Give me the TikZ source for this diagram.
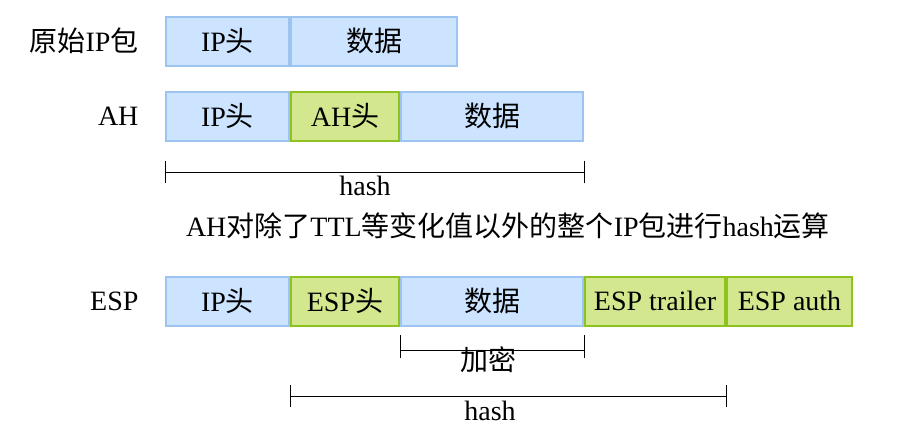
\documentclass[tikz,border=0pt]{standalone}
\usepackage{fontspec}
\setmainfont{Liberation Serif}
\newfontfamily\cjk{Noto Sans CJK SC}
\newcommand{\zh}[1]{{\cjk #1}}
\usepackage{tikz}
\usetikzlibrary{positioning}
\definecolor{ipblue}{HTML}{CCE4FF}
\definecolor{ipblueline}{HTML}{9DC3F0}
\definecolor{ipgreen}{HTML}{D3E88E}
\definecolor{ipgreenline}{HTML}{8DC21F}
\tikzset{
  field/.style={draw=ipblueline,fill=ipblue,line width=2pt,minimum height=49pt,inner sep=0pt,font=\fontsize{28}{30}\selectfont},
  secfield/.style={field,draw=ipgreenline,fill=ipgreen},
  rowlabel/.style={anchor=east,font=\fontsize{28}{30}\selectfont},
  txt/.style={font=\fontsize{28}{30}\selectfont}
}
\begin{document}
\begin{tikzpicture}[x=1pt,y=-1pt]
  \useasboundingbox (0,0) rectangle (917,437);
  % original packet
  \node[rowlabel] (lorig) at (142,41) {\zh{原始}IP\zh{包}};
  \node[field,minimum width=123pt] (oip) at (227.5,41) {IP\zh{头}};
  \node[field,minimum width=166pt,right=0pt of oip] (odata) {\zh{数据}};
  % AH
  \node[rowlabel] (lah) at (142,116) {AH};
  \node[field,minimum width=123pt] (aip) at (227.5,116) {IP\zh{头}};
  \node[secfield,minimum width=108pt,right=0pt of aip] (ahdr) {AH\zh{头}};
  \node[field,minimum width=182pt,right=0pt of ahdr] (adata) {\zh{数据}};
  % AH hash range
  \coordinate (ah1) at (165,172);
  \coordinate (ah2) at (584,172);
  \draw (ah1) -- (ah2);
  \draw ([yshift=-11pt]ah1) -- ([yshift=11pt]ah1);
  \draw ([yshift=-11pt]ah2) -- ([yshift=11pt]ah2);
  \node[txt] (ahhash) at (365,186) {hash};
  \node[txt] (note) at (508,226) {AH\zh{对除了}TTL\zh{等变化值以外的整个}IP\zh{包进行}hash\zh{运算}};
  % ESP
  \node[rowlabel] (lesp) at (142,301) {ESP};
  \node[field,minimum width=123pt] (eip) at (227.5,301) {IP\zh{头}};
  \node[secfield,minimum width=108pt,right=0pt of eip] (ehdr) {ESP\zh{头}};
  \node[field,minimum width=182pt,right=0pt of ehdr] (edata) {\zh{数据}};
  \node[secfield,minimum width=140pt,right=0pt of edata] (etrail) {ESP trailer};
  \node[secfield,minimum width=125pt,right=0pt of etrail] (eauth) {ESP auth};
  % encryption range
  \coordinate (en1) at (400,350);
  \coordinate (en2) at (584,350);
  \draw (en1) -- (en2);
  \draw ([yshift=-8pt]en1) -- ([yshift=15pt]en1);
  \draw ([yshift=-8pt]en2) -- ([yshift=15pt]en2);
  \node[txt] (enc) at (488,360) {\zh{加密}};
  % ESP hash range
  \coordinate (eh1) at (290,396);
  \coordinate (eh2) at (726,396);
  \draw (eh1) -- (eh2);
  \draw ([yshift=-11pt]eh1) -- ([yshift=11pt]eh1);
  \draw ([yshift=-11pt]eh2) -- ([yshift=11pt]eh2);
  \node[txt] (esphash) at (490,411) {hash};
\end{tikzpicture}
\end{document}
